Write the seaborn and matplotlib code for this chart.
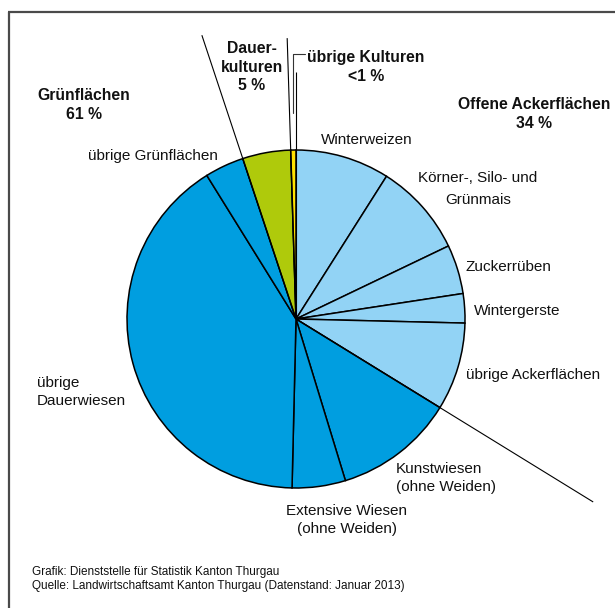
import numpy as np
import matplotlib
matplotlib.use("Agg")
import matplotlib.pyplot as plt
import seaborn as sns

# ---- data ----
categories = ["Winterweizen", "Körner-, Silo- und\nGrünmais", "Zuckerrüben", "Wintergerste",
              "übrige Ackerflächen", "Kunstwiesen\n(ohne Weiden)", "Extensive Wiesen\n(ohne Weiden)",
              "übrige\nDauerwiesen", "übrige Grünflächen", "Dauerkulturen", "übrige Kulturen"]
values = [9.0, 8.9, 4.7, 2.8, 8.4, 11.5, 5.1, 40.8, 3.75, 4.6, 0.5]
groups = ["Offene Ackerflächen"] * 5 + ["Grünflächen"] * 4 + ["Dauerkulturen", "übrige Kulturen"]
group_labels = ["Offene Ackerflächen\n34 %", "Grünflächen\n61 %", "Dauer-\nkulturen\n5 %", "übrige Kulturen\n<1 %"]
footer = ["Grafik: Dienststelle für Statistik Kanton Thurgau",
          "Quelle: Landwirtschaftsamt Kanton Thurgau (Datenstand: Januar 2013)"]

sns.set_theme(style="white")
plt.rcParams['font.family'] = ['Liberation Sans', 'DejaVu Sans']
plt.rcParams['text.color'] = "#111111"

group_colors = {"Offene Ackerflächen": "#92D3F5", "Grünflächen": "#009EE0",
                "Dauerkulturen": "#AFCA0B", "übrige Kulturen": "#FFE000"}
colors = [group_colors[g] for g in groups]

W, H = 615, 608
fig = plt.figure(figsize=(W / 100, H / 100), dpi=100)
ax = fig.add_axes([0, 0, 1, 1])

cx, cy, R = 296, H - 319, 169
ax.pie(values, colors=colors, startangle=90, counterclock=False, center=(cx, cy), radius=R,
       wedgeprops=dict(edgecolor="black", linewidth=1.1))
ax.set_xlim(0, W)
ax.set_ylim(0, H)
ax.set_aspect("auto")
ax.axis("off")

# long separator lines from center along group boundaries
cum = np.concatenate([[0], np.cumsum(values)]) / np.sum(values) * 360.0
def ray(angle_cw_from_top, length):
    a = np.deg2rad(90 - angle_cw_from_top)
    ax.plot([cx, cx + length * np.cos(a)], [cy, cy + length * np.sin(a)],
            color="black", lw=0.8, solid_capstyle="butt", zorder=3)

ray(cum[0], 247)     # top boundary
ray(cum[5], 349)     # Acker / Grün
ray(cum[9], 299)     # Grün / Dauerkulturen
ray(cum[10], 281)    # Dauerkulturen / übrige Kulturen

# leader for übrige Kulturen
ax.plot([305, 293.3, 293.3], [H - 54, H - 54, H - 113], color="#333333", lw=0.8, zorder=3)

def T(x, y, s, **kw):
    ax.text(x, H - y, s, **kw)

fs = 11.0
fb = 11.3
# segment labels
T(367, 140, categories[0], ha="center", va="center", fontsize=fs)
T(478, 189, categories[1], ha="center", va="center", fontsize=fs, linespacing=1.7)
T(465, 267, categories[2], ha="left", va="center", fontsize=fs)
T(474, 311, categories[3], ha="left", va="center", fontsize=fs)
T(466, 375, categories[4], ha="left", va="center", fontsize=fs)
T(396, 478, categories[5], ha="left", va="center", fontsize=fs, linespacing=1.35)
T(347, 520, categories[6], ha="center", va="center", fontsize=fs, linespacing=1.4)
T(37, 392, categories[7], ha="left", va="center", fontsize=fs, linespacing=1.4)
T(153, 156, categories[8], ha="center", va="center", fontsize=fs)

# group labels (bold)
T(534, 114, group_labels[0], ha="center", va="center", fontsize=fb, fontweight="bold", linespacing=1.3)
T(84, 105, group_labels[1], ha="center", va="center", fontsize=fb, fontweight="bold", linespacing=1.3)
T(252, 67, group_labels[2], ha="center", va="center", fontsize=fb, fontweight="bold", linespacing=1.3)
T(366, 67, group_labels[3], ha="center", va="center", fontsize=fb, fontweight="bold", linespacing=1.3)

# footer
T(32, 579, "\n".join(footer), ha="left", va="center", fontsize=8.5, linespacing=1.15)

# frame lines (top and left)
ax.plot([8, W], [H - 12, H - 12], color="#4a4a4a", lw=1.6, solid_capstyle="butt")
ax.plot([8.5, 8.5], [H - 12, 0], color="#4a4a4a", lw=1.6, solid_capstyle="butt")

fig.savefig("out.png", dpi=100, facecolor="white")
